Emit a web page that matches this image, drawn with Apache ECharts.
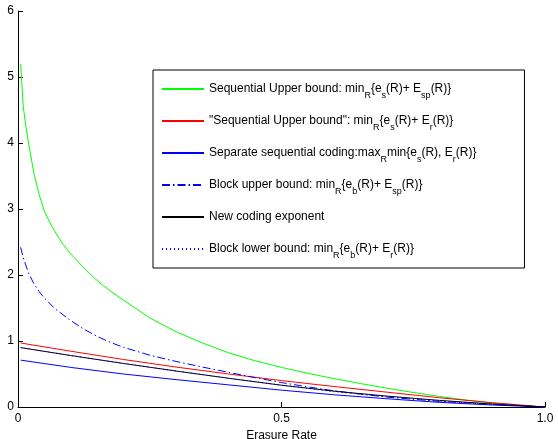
<!DOCTYPE html>
<html>
<head>
<meta charset="utf-8">
<script src="https://cdn.jsdelivr.net/npm/echarts@6/dist/echarts.min.js"></script>
<style>html,body{margin:0;padding:0;background:#fff}#c{width:558px;height:439px}</style>
</head>
<body>
<div id="c"></div>
<script>
var seriesNames = [
  'Sequential Upper bound',
  'Sequential Upper bound quoted',
  'Separate sequential coding',
  'Block upper bound',
  'New coding exponent',
  'Block lower bound'
];
var legendLabels = [
  'Sequential Upper bound: min{s|R}{e{s|s}(R)+ E{s|sp}(R)}',
  '"Sequential Upper bound": min{s|R}{e{s|s}(R)+ E{s|r}(R)}',
  'Separate sequential coding:max{s|R}min{e{s|s}(R), E{s|r}(R)}',
  'Block upper bound: min{s|R}{e{s|b}(R)+ E{s|sp}(R)}',
  'New coding exponent',
  'Block lower bound: min{s|R}{e{s|b}(R)+ E{s|r}(R)}'
];
var xTickLabels = ['0', '0.5', '1.0'];
var yTickLabels = ['0', '1', '2', '3', '4', '5', '6'];

var greenX = [0.005,0.01,0.015,0.02,0.03,0.04,0.05,0.06,0.07,0.085,0.1,0.12,0.14,0.16,0.18,0.2,0.25,0.3,0.35,0.4,0.45,0.5,0.55,0.6,0.65,0.7,0.75,0.8,0.85,0.9,0.95,1.0];
var greenY = [5.2,4.55,4.25,4.0,3.55,3.22,2.97,2.8,2.66,2.47,2.32,2.15,1.99,1.85,1.73,1.62,1.35,1.14,0.97,0.82,0.70,0.60,0.51,0.43,0.355,0.285,0.22,0.16,0.105,0.06,0.025,0];

var dashX = [0.005,0.01,0.02,0.03,0.04,0.05,0.07,0.1,0.125,0.15,0.175,0.2,0.25,0.3,0.35,0.4,0.45,0.5,0.55,0.6,0.65,0.7,0.8,0.9,1.0];
var dashY = [2.42,2.26,2.03,1.87,1.75,1.65,1.49,1.31,1.18,1.07,0.98,0.905,0.785,0.69,0.605,0.525,0.445,0.37,0.305,0.245,0.195,0.15,0.085,0.04,0];

var lineX  = [0.005,0.1,0.2,0.3,0.4,0.5,0.6,0.7,0.8,0.9,1.0];
var redY   = [0.97,0.845,0.72,0.605,0.5,0.4,0.31,0.225,0.14,0.065,0];
var blackY = [0.9,0.78,0.66,0.545,0.435,0.33,0.24,0.165,0.1,0.045,0];
var blueY  = [0.71,0.6,0.5,0.415,0.335,0.255,0.185,0.125,0.07,0.03,0];
var dotY   = [0.9,0.78,0.66,0.545,0.435,0.33,0.23,0.155,0.09,0.04,0];

function pairs(xs, ys) { return xs.map(function (x, i) { return [x, ys[i]]; }); }

var FONT = 'Liberation Sans, Arial, Helvetica, sans-serif';
var chart = echarts.init(document.getElementById('c'), null, {renderer: 'canvas'});

function mkSeries(name, xs, ys, color, type) {
  return {
    name: name, type: 'line', data: pairs(xs, ys), showSymbol: false, symbol: 'none',
    smooth: false, animation: false,
    lineStyle: {color: color, width: 1, type: type || 'solid'},
    itemStyle: {color: color}
  };
}

var option = {
  animation: false,
  backgroundColor: '#fff',
  textStyle: {fontFamily: FONT},
  grid: {left: 18, right: 13, top: 11, bottom: 32, containLabel: false, outerBoundsMode: 'none'},
  xAxis: {
    type: 'value', min: 0, max: 1, interval: 0.5,
    name: 'Erasure Rate', nameLocation: 'middle', nameGap: 18,
    nameTextStyle: {color: '#000', fontSize: 12, fontFamily: FONT},
    axisLine: {show: true, lineStyle: {color: '#000', width: 1}},
    axisTick: {show: true, inside: true, length: 5, lineStyle: {color: '#000'}},
    axisLabel: {color: '#000', fontSize: 12, fontFamily: FONT, margin: 6,
      formatter: function (v) { return xTickLabels[Math.round(v / 0.5)]; }},
    splitLine: {show: false}
  },
  yAxis: {
    type: 'value', min: 0, max: 6, interval: 1,
    axisLine: {show: true, lineStyle: {color: '#000', width: 1}},
    axisTick: {show: true, inside: true, length: 5, lineStyle: {color: '#000'}},
    axisLabel: {color: '#000', fontSize: 12, fontFamily: FONT, margin: 4,
      formatter: function (v) { return yTickLabels[Math.round(v)]; }},
    splitLine: {show: false}
  },
  legend: {
    orient: 'vertical', left: 153, top: 70,
    data: seriesNames,
    backgroundColor: '#fff', borderColor: '#000', borderWidth: 1,
    padding: [8, 48, 8, 8],
    itemWidth: 42, itemHeight: 12, itemGap: 10,
    selectedMode: false,
    itemStyle: {opacity: 0},
    textStyle: {
      color: '#000', fontSize: 12, fontFamily: FONT, lineHeight: 22, verticalAlign: 'middle',
      rich: {
        s: {fontSize: 9, fontFamily: FONT, color: '#000', lineHeight: 22, verticalAlign: 'bottom'}
      }
    },
    formatter: function (name) { return legendLabels[seriesNames.indexOf(name)]; }
  },
  series: [
    mkSeries(seriesNames[0], greenX, greenY, '#00ff00'),
    mkSeries(seriesNames[1], lineX, redY, '#ff0000'),
    mkSeries(seriesNames[2], lineX, blueY, '#0000ff'),
    mkSeries(seriesNames[3], dashX, dashY, '#0000ff', [8, 3, 1.5, 3]),
    mkSeries(seriesNames[4], lineX, blackY, '#000000'),
    mkSeries(seriesNames[5], lineX, dotY, '#0000ff', [1, 3])
  ]
};
chart.setOption(option);
</script>
</body>
</html>
